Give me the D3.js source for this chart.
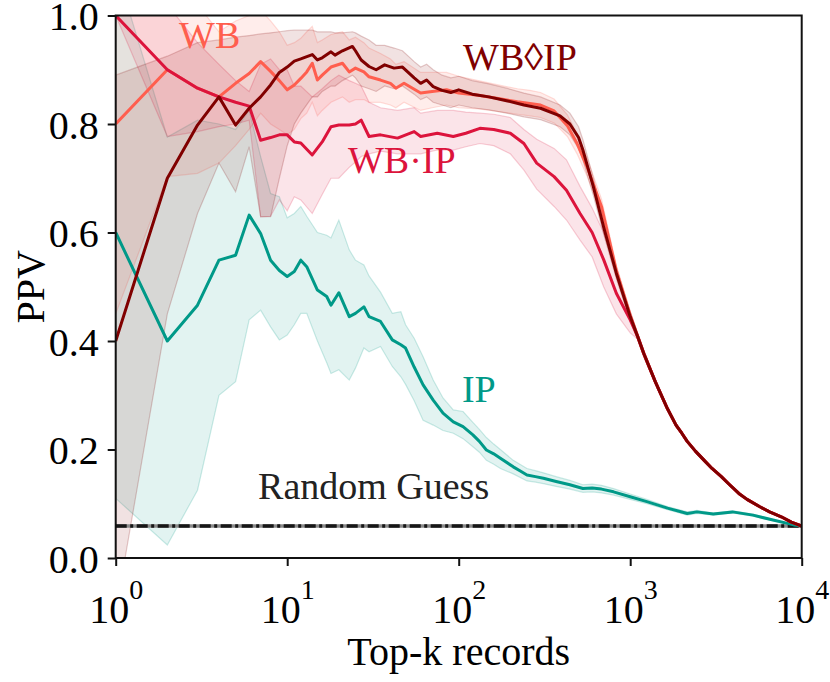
<!DOCTYPE html>
<html>
<head>
<meta charset="utf-8">
<script src="https://cdn.jsdelivr.net/npm/d3@7"></script>
<style>
  body { margin: 0; background: #fff; }
  svg { display: block; font-family: "Liberation Serif", "Times New Roman", serif; }
</style>
</head>
<body>
<svg id="chart" width="830" height="682"></svg>
<script>
// rows are [k, mean, lower edge, upper edge]
const ipRows = [
  [1, 0.600, 0.110, 1.090], [2, 0.400, 0.024, 0.776], [3, 0.466, 0.125, 0.807], [4, 0.549, 0.300, 0.800],
  [5, 0.558, 0.325, 0.790], [6, 0.632, 0.439, 0.825], [7, 0.598, 0.457, 0.740], [8, 0.549, 0.426, 0.672],
  [9, 0.530, 0.402, 0.666], [10, 0.519, 0.411, 0.627], [11, 0.528, 0.430, 0.635], [12, 0.549, 0.451, 0.648],
  [13, 0.537, 0.451, 0.630], [15, 0.494, 0.400, 0.600], [17, 0.482, 0.360, 0.595], [18, 0.466, 0.340, 0.590],
  [20, 0.489, 0.347, 0.623], [23, 0.445, 0.328, 0.568], [25, 0.451, 0.350, 0.549], [28, 0.463, 0.387, 0.540],
  [30, 0.445, 0.380, 0.520], [35, 0.436, 0.390, 0.490], [41, 0.402, 0.353, 0.451], [46, 0.393, 0.334, 0.454],
  [49, 0.387, 0.320, 0.430], [55, 0.352, 0.290, 0.405], [62, 0.319, 0.254, 0.371], [71, 0.291, 0.245, 0.328],
  [81, 0.267, 0.235, 0.295], [93, 0.251, 0.230, 0.273], [106, 0.242, 0.220, 0.270], [121, 0.227, 0.205, 0.250],
  [132, 0.215, 0.195, 0.237], [145, 0.199, 0.180, 0.222], [160, 0.192, 0.173, 0.210], [175, 0.184, 0.165, 0.200],
  [208, 0.168, 0.155, 0.180], [230, 0.160, 0.148, 0.172], [250, 0.153, 0.142, 0.165], [280, 0.150, 0.140, 0.161],
  [312, 0.147, 0.137, 0.157], [370, 0.141, 0.132, 0.150], [445, 0.135, 0.127, 0.143], [530, 0.128, 0.121, 0.135],
  [600, 0.129, 0.122, 0.136], [680, 0.127, 0.120, 0.134], [800, 0.122, 0.116, 0.128], [1000, 0.113, 0.108, 0.118],
  [1250, 0.104, 0.100, 0.108], [1650, 0.092, 0.089, 0.095], [2150, 0.082, 0.079, 0.085], [2450, 0.085, 0.082, 0.088],
  [3050, 0.081, 0.079, 0.083], [3950, 0.085, 0.083, 0.087], [5200, 0.079, 0.077, 0.081], [6800, 0.070, 0.069, 0.071],
  [9000, 0.061, 0.0605, 0.0615], [10000, 0.059, 0.059, 0.059]
]

// all three WB curves share this tail past ~1100 records
const redTail = [
  [1100, 0.410, 0.404, 0.416], [1200, 0.377, 0.371, 0.383], [1300, 0.350, 0.345, 0.355], [1400, 0.325, 0.321, 0.329],
  [1500, 0.304, 0.300, 0.308], [1650, 0.275, 0.272, 0.278], [1850, 0.245, 0.242, 0.248], [2000, 0.230, 0.228, 0.232],
  [2150, 0.215, 0.213, 0.217], [2400, 0.197, 0.195, 0.199], [2700, 0.180, 0.178, 0.182], [3000, 0.165, 0.164, 0.166],
  [3400, 0.150, 0.149, 0.151], [3800, 0.135, 0.134, 0.136], [4300, 0.119, 0.118, 0.120], [4800, 0.108, 0.107, 0.109],
  [5700, 0.0945, 0.094, 0.095], [6500, 0.085, 0.0846, 0.0854], [7600, 0.076, 0.0758, 0.0762], [8700, 0.066, 0.0659, 0.0661],
  [10000, 0.059, 0.059, 0.059]
]

const wbRows = [
  [1, 0.800, 0.450, 1.150], [2, 0.900, 0.703, 1.100], [3, 0.866, 0.709, 1.020], [4, 0.850, 0.728, 0.970],
  [5, 0.875, 0.760, 0.990], [6, 0.893, 0.790, 1.000], [7, 0.915, 0.820, 1.010], [8, 0.897, 0.800, 0.990],
  [9, 0.880, 0.790, 0.970], [10, 0.863, 0.780, 0.945], [11, 0.872, 0.790, 0.950], [12, 0.884, 0.810, 0.958],
  [13, 0.896, 0.820, 0.970], [14, 0.912, 0.840, 0.980], [15, 0.881, 0.815, 0.950], [16, 0.890, 0.825, 0.955],
  [18, 0.905, 0.840, 0.965], [21, 0.912, 0.850, 0.970], [23, 0.896, 0.840, 0.955], [25, 0.903, 0.845, 0.960],
  [28, 0.896, 0.845, 0.950], [30, 0.887, 0.840, 0.940], [35, 0.881, 0.840, 0.930], [40, 0.875, 0.835, 0.920],
  [43, 0.866, 0.830, 0.910], [48, 0.875, 0.840, 0.915], [60, 0.857, 0.825, 0.895], [70, 0.860, 0.830, 0.895],
  [85, 0.863, 0.835, 0.895], [100, 0.857, 0.830, 0.888], [130, 0.853, 0.828, 0.880], [170, 0.847, 0.823, 0.872],
  [220, 0.841, 0.818, 0.865], [260, 0.838, 0.815, 0.862], [300, 0.835, 0.812, 0.858], [360, 0.824, 0.802, 0.846],
  [430, 0.797, 0.777, 0.817], [490, 0.764, 0.745, 0.783], [560, 0.721, 0.704, 0.738], [680, 0.648, 0.634, 0.662],
  [830, 0.530, 0.520, 0.540], [1000, 0.447, 0.439, 0.455], ...redTail
]

const wbDotIpRows = [
  [1, 1.000, 1.000, 1.000], [2, 0.900, 0.777, 1.020], [3, 0.866, 0.786, 0.950], [4, 0.850, 0.795, 0.910],
  [5, 0.840, 0.800, 0.880], [6, 0.833, 0.807, 0.860], [7, 0.770, 0.629, 0.910], [8, 0.775, 0.630, 0.920],
  [9, 0.780, 0.660, 0.900], [10, 0.780, 0.640, 0.900], [11, 0.767, 0.666, 0.870], [12, 0.765, 0.660, 0.870],
  [14, 0.743, 0.635, 0.850], [16, 0.767, 0.670, 0.865], [18, 0.795, 0.700, 0.880], [20, 0.798, 0.700, 0.890],
  [23, 0.798, 0.720, 0.880], [25, 0.800, 0.730, 0.875], [27, 0.807, 0.740, 0.870], [30, 0.777, 0.745, 0.840],
  [35, 0.780, 0.750, 0.830], [44, 0.774, 0.745, 0.825], [55, 0.786, 0.745, 0.830], [60, 0.777, 0.745, 0.820],
  [75, 0.783, 0.752, 0.825], [93, 0.777, 0.752, 0.825], [110, 0.783, 0.758, 0.822], [133, 0.792, 0.764, 0.820],
  [160, 0.790, 0.760, 0.818], [200, 0.783, 0.745, 0.812], [240, 0.764, 0.715, 0.790], [285, 0.728, 0.680, 0.772],
  [360, 0.703, 0.648, 0.755], [425, 0.678, 0.623, 0.734], [510, 0.635, 0.586, 0.685], [600, 0.600, 0.555, 0.645],
  [700, 0.550, 0.500, 0.600], [830, 0.488, 0.450, 0.525], [1000, 0.439, 0.415, 0.455], ...redTail
]

const wbDiamondIpRows = [
  [1, 0.400, -0.100, 0.890], [2, 0.700, 0.450, 0.925], [3, 0.798, 0.635, 0.950], [4, 0.850, 0.728, 0.955],
  [5, 0.798, 0.675, 0.960], [6, 0.829, 0.758, 0.963], [7, 0.850, 0.629, 0.966], [8, 0.872, 0.629, 0.968],
  [9, 0.895, 0.700, 0.970], [10, 0.905, 0.760, 0.972], [11, 0.916, 0.800, 0.973], [12, 0.920, 0.820, 0.973],
  [14, 0.928, 0.850, 0.973], [15, 0.918, 0.850, 0.970], [16, 0.922, 0.860, 0.970], [18, 0.933, 0.870, 0.970],
  [19, 0.927, 0.870, 0.968], [21, 0.935, 0.880, 0.968], [24, 0.943, 0.890, 0.970], [25, 0.935, 0.885, 0.968],
  [27, 0.918, 0.870, 0.962], [30, 0.906, 0.865, 0.955], [33, 0.900, 0.860, 0.945], [37, 0.909, 0.870, 0.945],
  [42, 0.903, 0.865, 0.940], [47, 0.905, 0.870, 0.935], [55, 0.885, 0.855, 0.915], [60, 0.875, 0.845, 0.905],
  [65, 0.881, 0.850, 0.910], [71, 0.869, 0.840, 0.900], [80, 0.862, 0.835, 0.890], [90, 0.858, 0.830, 0.885],
  [100, 0.863, 0.835, 0.888], [120, 0.855, 0.830, 0.880], [150, 0.850, 0.826, 0.874], [190, 0.843, 0.820, 0.866],
  [240, 0.835, 0.813, 0.857], [300, 0.829, 0.808, 0.850], [390, 0.815, 0.795, 0.835], [445, 0.800, 0.780, 0.820],
  [500, 0.775, 0.755, 0.795], [530, 0.752, 0.733, 0.771], [610, 0.684, 0.668, 0.700], [700, 0.610, 0.597, 0.623],
  [830, 0.525, 0.515, 0.535], [1000, 0.445, 0.437, 0.453], ...redTail
]

const randomGuess = 0.059
const xTicks = [1, 10, 100, 1000, 10000]
const yTicks = [0, 0.2, 0.4, 0.6, 0.8, 1.0]

const series = [
  { name: 'IP', rows: ipRows, color: '#009988' },
  { name: 'WB', rows: wbRows, color: '#ff5e4e' },
  { name: 'WB·IP', rows: wbDotIpRows, color: '#dc143c' },
  { name: 'WB◊IP', rows: wbDiamondIpRows, color: '#800000' }
]

// text labels placed in data coordinates [k, value]
const labels = [
  { text: 'WB', k: 2.34, v: 0.94, color: '#ff5e4e' },
  { text: 'WB·IP', k: 22.6, v: 0.71, color: '#dc143c' },
  { text: 'WB◊IP', k: 106, v: 0.90, color: '#800000' },
  { text: 'IP', k: 104.5, v: 0.288, color: '#009988' },
  { text: 'Random Guess', k: 6.76, v: 0.109, color: '#222' }
]

const plotLeft = 115.7, plotRight = 801.7, plotTop = 15.5, plotBottom = 558

const svg = d3.select('#chart')

const x = d3.scaleLog().domain([1, 10000]).range([plotLeft, plotRight])
const y = d3.scaleLinear().domain([0, 1]).range([plotBottom, plotTop])

svg.append('defs').append('clipPath').attr('id', 'plot-clip')
    .append('rect')
    .attr('x', plotLeft).attr('y', plotTop)
    .attr('width', plotRight - plotLeft).attr('height', plotBottom - plotTop)

const plot = svg.append('g').attr('clip-path', 'url(#plot-clip)')

const band = d3.area()
    .x(d => x(d[0]))
    .y0(d => y(d[2]))
    .y1(d => y(d[3]))

const line = d3.line()
    .x(d => x(d[0]))
    .y(d => y(d[1]))

// shaded spread first, like fill_between with alpha
plot.selectAll('path.band')
    .data(series)
    .join('path')
    .classed('band', true)
    .attr('d', d => band(d.rows))
    .attr('fill', d => d.color)
    .attr('fill-opacity', 0.115)
    .attr('stroke', d => d.color)
    .attr('stroke-opacity', 0.2)
    .attr('stroke-width', 1.2)

// random guess baseline
plot.append('line')
    .attr('x1', x(1)).attr('x2', x(10000))
    .attr('y1', y(randomGuess)).attr('y2', y(randomGuess))
    .attr('stroke', '#8a8a8a')
    .attr('stroke-width', 3.5)
plot.append('line')
    .attr('x1', x(1)).attr('x2', x(10000))
    .attr('y1', y(randomGuess)).attr('y2', y(randomGuess))
    .attr('stroke', '#161616')
    .attr('stroke-width', 3.5)
    .attr('stroke-dasharray', '11,3.5,3,3.5')

plot.selectAll('path.mean')
    .data(series)
    .join('path')
    .classed('mean', true)
    .attr('d', d => line(d.rows))
    .attr('fill', 'none')
    .attr('stroke', d => d.color)
    .attr('stroke-width', 3)
    .attr('stroke-linejoin', 'round')

svg.selectAll('text.series-label')
    .data(labels)
    .join('text')
    .classed('series-label', true)
    .attr('x', d => x(d.k))
    .attr('y', d => y(d.v))
    .attr('fill', d => d.color)
    .attr('font-size', 38)
    .text(d => d.text)

// frame
svg.append('rect')
    .attr('x', plotLeft).attr('y', plotTop)
    .attr('width', plotRight - plotLeft).attr('height', plotBottom - plotTop)
    .attr('fill', 'none')
    .attr('stroke', '#111')
    .attr('stroke-width', 2)

// y axis
const yAxis = svg.append('g')
    .attr('transform', `translate(${plotLeft},0)`)
    .call(d3.axisLeft(y).tickValues(yTicks).tickFormat(d3.format('.1f')).tickSize(8).tickSizeOuter(0).tickPadding(9))
yAxis.select('.domain').remove()
yAxis.selectAll('line').attr('stroke', '#111').attr('stroke-width', 2)
yAxis.selectAll('text')
    .attr('font-family', '"Liberation Serif", "Times New Roman", serif')
    .attr('font-size', 40)
    .attr('fill', '#000')
    .attr('dy', '0.36em')

// x axis, labels written as 10^n
const xAxis = svg.append('g')
    .attr('transform', `translate(0,${plotBottom})`)
    .call(d3.axisBottom(x).tickValues(xTicks).tickFormat('').tickSize(8).tickSizeOuter(0))
xAxis.select('.domain').remove()
xAxis.selectAll('line').attr('stroke', '#111').attr('stroke-width', 2)
xAxis.selectAll('.tick text').remove()
xAxis.selectAll('.tick')
    .append('text')
    .attr('y', 65)
    .attr('text-anchor', 'middle')
    .attr('fill', '#000')
    .attr('font-family', '"Liberation Serif", "Times New Roman", serif')
    .attr('font-size', 40)
    .each((d, i, nodes) => {
        const t = d3.select(nodes[i])
        t.append('tspan').text('10')
        t.append('tspan').attr('dy', -24).attr('font-size', 28).text(Math.round(Math.log10(d)))
    })

svg.append('text')
    .attr('x', (plotLeft + plotRight) / 2)
    .attr('y', 665)
    .attr('text-anchor', 'middle')
    .attr('font-size', 40)
    .text('Top-k records')

svg.append('text')
    .attr('transform', `translate(44,${(plotTop + plotBottom) / 2}) rotate(-90)`)
    .attr('text-anchor', 'middle')
    .attr('font-size', 40)
    .text('PPV')
</script>
</body>
</html>
